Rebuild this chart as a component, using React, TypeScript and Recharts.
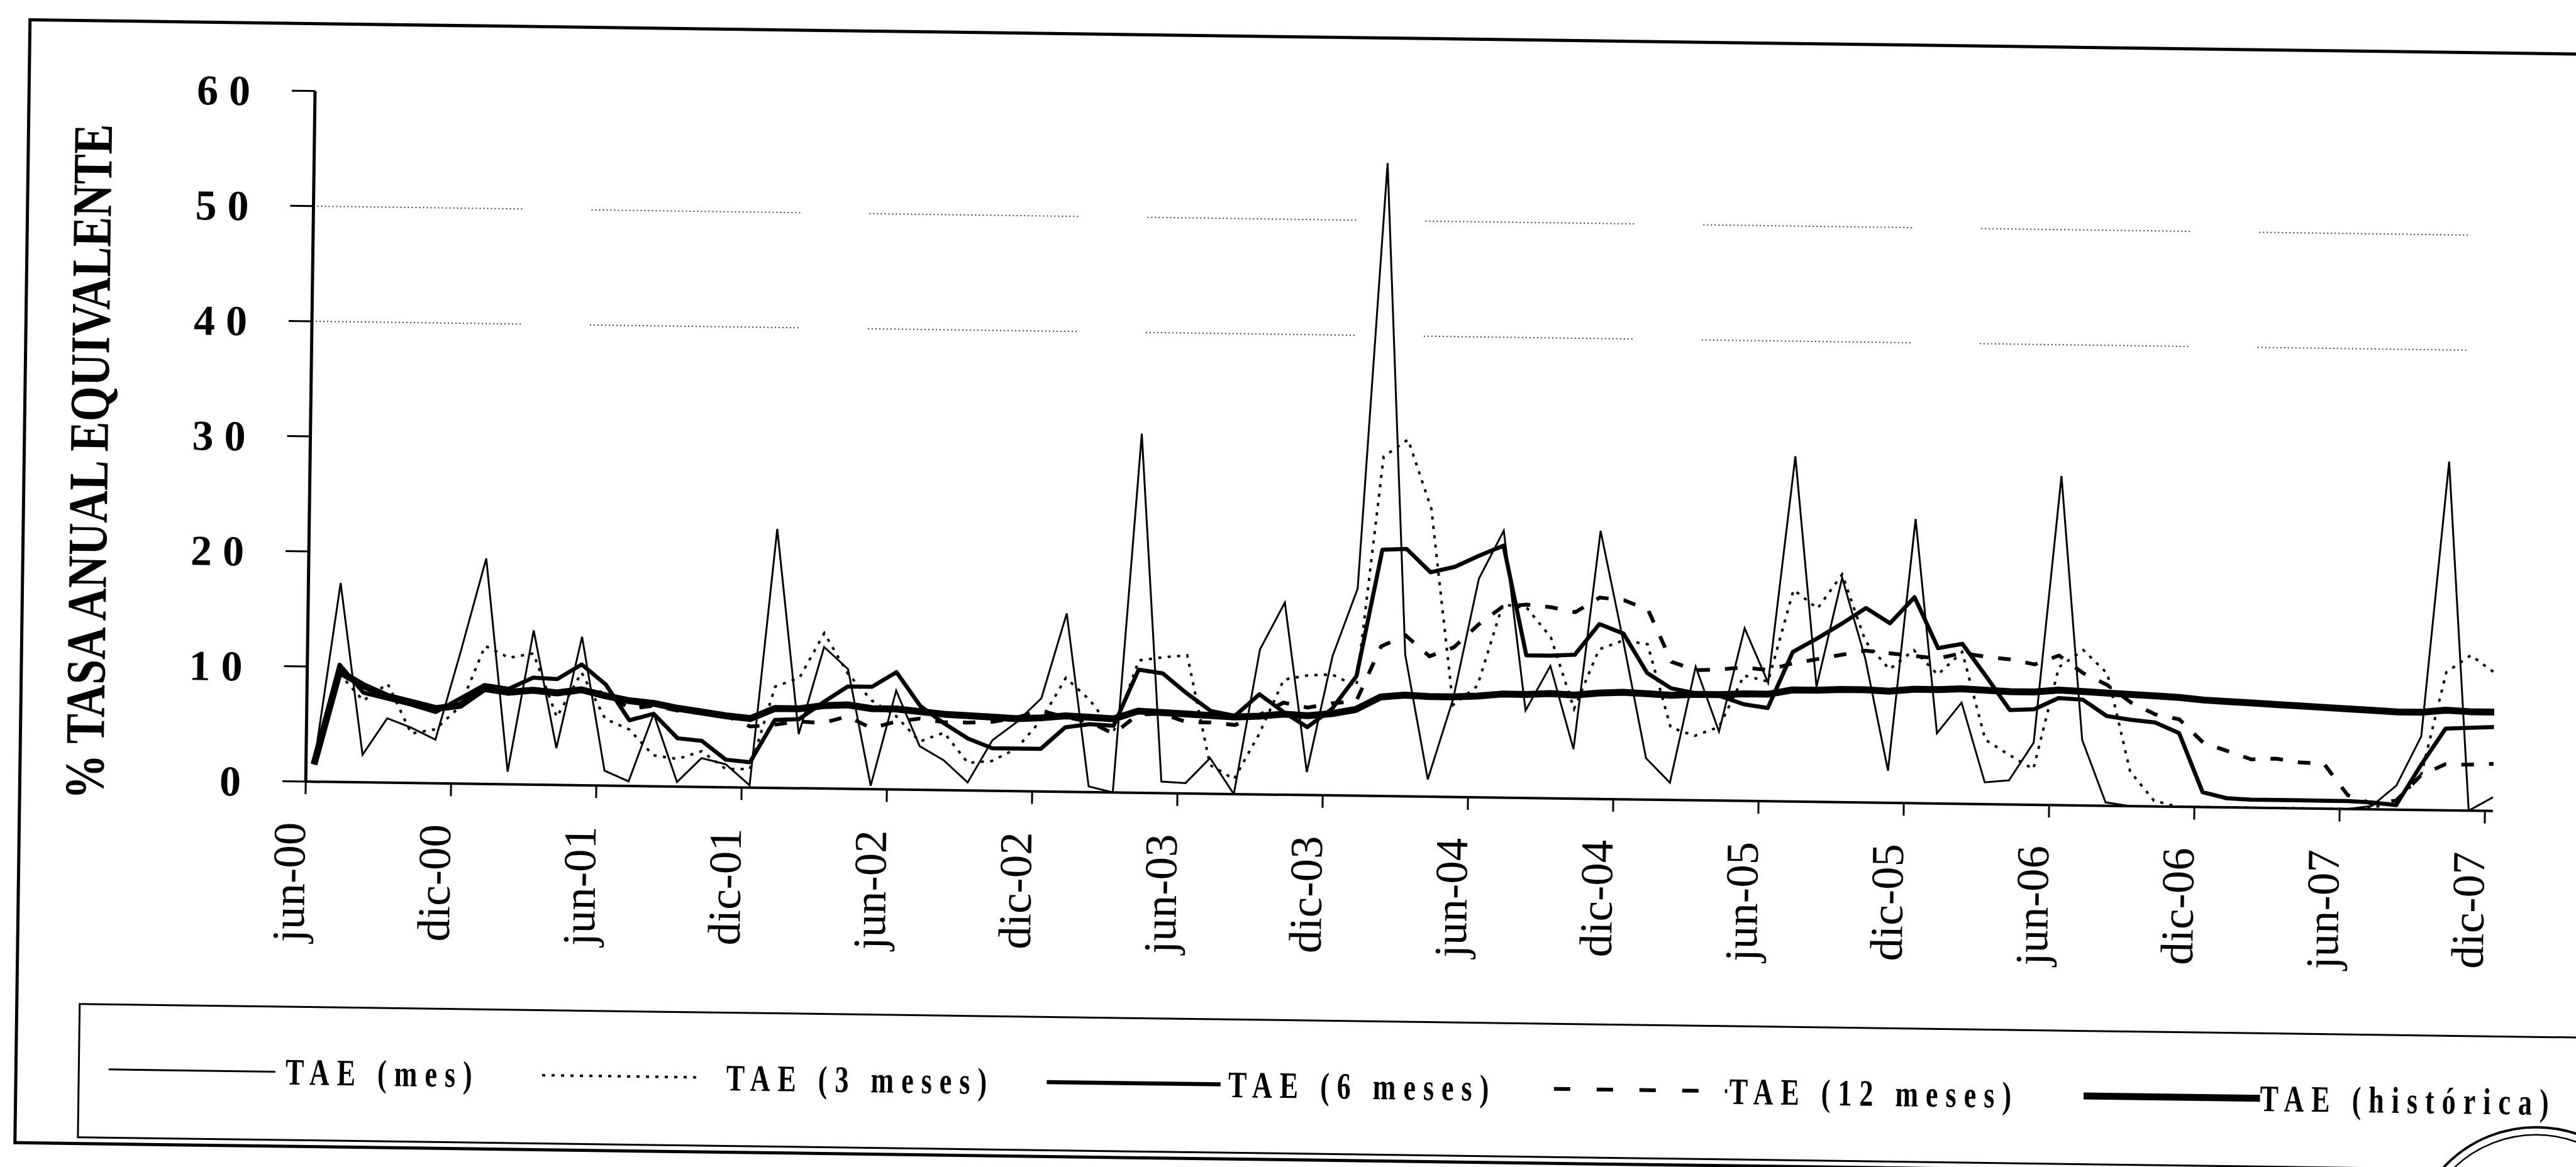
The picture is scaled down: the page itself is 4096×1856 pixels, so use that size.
import React from "react";
import { LineChart, Line, XAxis, YAxis, ReferenceLine } from "recharts";

// everything is laid out in the reference's pixel units and shrunk by S
const S = 0.813;
const W = 4096;
const H = 1856;
const SERIF = "'Liberation Serif', 'Times New Roman', serif";

// the scanned page sits slightly askew
const TILT_DEG = 0.77;

const X0 = 598 * S; // y axis
const X1 = 4876 * S; // end of x axis
const Y0 = 1529 * S; // value 0
const Y60 = 178 * S; // value 60

const TICK_MONTHS = [0, 6, 12, 18, 24, 30, 36, 42, 48, 54, 60, 66, 72, 78, 84, 90];
const TICK_LABELS = [
  "jun-00", "dic-00", "jun-01", "dic-01", "jun-02", "dic-02", "jun-03", "dic-03",
  "jun-04", "dic-04", "jun-05", "dic-05", "jun-06", "dic-06", "jun-07", "dic-07",
];
const Y_TICKS = [0, 10, 20, 30, 40, 50, 60];
const GRID_VALUES = [40, 50];

// monthly observations jun-00 .. dic-07, taken roughly a third into each month
const OBS_OFFSET = 0.33;

const taeMes = [
  1.5, 17.3, 2.4, 5.6, 4.8, 3.8, 11.5, 19.6, 1.1, 13.4,
  3.2, 12.9, 1.3, 0.4, 6.3, 0.4, 2.5, 2.0, 0.2, 22.5,
  4.7, 12.3, 10.4, 0.3, 8.6, 3.8, 2.6, 0.7, 4.4, 6.0,
  8.1, 15.5, 0.5, 0.0, 31.2, 1.0, 0.9, 3.1, 0.0, 12.6,
  16.7, 2.0, 12.1, 18.0, 55.0, 12.3, 1.5, 8.5, 19.0, 23.2,
  7.6, 11.5, 4.3, 23.3, 13.7, 3.6, 1.5, 11.6, 6.0, 15.0,
  10.3, 30.0, 10.0, 19.5, 12.5, 2.8, 24.7, 6.1, 8.8, 1.9,
  2.1, 5.4, 28.6, 5.7, 0.3, 0, 0, 0, 0, 0,
  0, 0, 0, 0, 0, 0.3, 2.1, 6.4, 30.3, 0.0, 1.2,
];

const tae3m = [
  1.5, 9.4, 7.1, 8.6, 4.3, 4.7, 6.7, 12.0, 11.0, 11.4,
  5.9, 9.8, 5.8, 4.9, 2.7, 2.4, 3.1, 1.6, 1.6, 8.8,
  9.6, 13.5, 10.0, 7.7, 6.4, 4.2, 5.0, 2.4, 2.6, 3.7,
  6.2, 9.9, 8.0, 5.3, 11.5, 11.8, 12.0, 2.5, 1.3, 5.2,
  10.0, 10.4, 10.5, 9.5, 29.5, 31.0, 25.0, 8.0, 9.7, 16.8,
  16.5, 14.0, 7.8, 13.0, 13.8, 13.5, 6.3, 5.6, 6.4, 10.9,
  10.4, 18.4, 16.8, 19.8, 14.0, 11.6, 13.3, 11.2, 13.2, 5.6,
  4.3, 3.1, 12.0, 13.5, 11.5, 3.0, 0.5, 0, 0, 0,
  0, 0, 0, 0, 0, 0.1, 0.8, 2.9, 12.0, 13.5, 12.0,
];

const tae6m = [
  1.5, 10.2, 7.8, 7.3, 6.8, 6.2, 7.4, 8.6, 8.3, 9.3,
  9.2, 10.5, 8.8, 5.7, 6.3, 4.2, 4.0, 2.4, 2.2, 5.9,
  6.0, 7.5, 8.9, 8.9, 10.2, 7.3, 5.8, 4.5, 3.7, 3.7,
  3.7, 5.6, 5.9, 5.8, 10.7, 10.4, 8.7, 7.2, 6.8, 8.7,
  7.2, 5.9, 7.5, 10.4, 21.4, 21.5, 19.5, 20.0, 21.0, 21.9,
  12.4, 12.4, 12.5, 15.2, 14.4, 11.0, 9.7, 9.3, 9.1, 8.4,
  8.1, 13.0, 14.2, 15.5, 16.9, 15.6, 17.9, 13.5, 13.9, 11.1,
  8.2, 8.3, 9.3, 9.2, 7.8, 7.5, 7.3, 6.4, 1.3, 0.8,
  0.7, 0.7, 0.7, 0.7, 0.7, 0.6, 0.4, 3.9, 7.1, 7.2, 7.3,
];

const tae12m = [
  1.5, 9.6, 8.4, 7.5, 7.0, 6.5, 6.8, 8.3, 8.0, 8.2,
  8.0, 8.1, 8.1, 6.7, 7.0, 6.6, 6.4, 6.2, 5.3, 5.5,
  5.8, 5.7, 6.3, 5.3, 5.9, 6.2, 5.9, 5.9, 6.0, 6.4,
  7.0, 6.5, 6.1, 5.1, 6.8, 6.9, 6.2, 6.2, 6.0, 6.9,
  8.0, 7.6, 8.0, 8.2, 13.0, 14.0, 12.2, 13.0, 15.0, 16.6,
  16.8, 16.6, 16.2, 17.5, 17.3, 16.5, 12.0, 11.3, 11.4, 11.6,
  11.4, 12.0, 12.4, 12.8, 13.2, 13.0, 12.8, 12.6, 13.1, 12.8,
  12.6, 12.2, 13.0, 11.5, 10.5, 9.0, 8.0, 7.6, 5.6, 4.9,
  4.2, 4.3, 4.0, 3.9, 1.2, 0.5, 0.8, 3.0, 4.0, 4.0, 4.1,
];

const taeHist = [
  1.5, 9.6, 8.4, 7.5, 7.0, 6.5, 6.8, 8.3, 8.0, 8.2,
  8.0, 8.3, 7.8, 7.4, 7.2, 6.8, 6.5, 6.2, 6.0, 6.9,
  6.9, 7.2, 7.3, 7.0, 7.0, 6.8, 6.6, 6.5, 6.4, 6.3,
  6.4, 6.6, 6.5, 6.4, 7.1, 7.0, 6.9, 6.8, 6.7, 6.8,
  7.0, 6.9, 7.1, 7.5, 8.6, 8.8, 8.7, 8.7, 8.8, 9.0,
  9.0, 9.1, 9.0, 9.2, 9.3, 9.2, 9.1, 9.2, 9.2, 9.3,
  9.3, 9.7, 9.7, 9.8, 9.8, 9.7, 9.9, 9.9, 10.0, 9.9,
  9.8, 9.8, 10.0, 9.9, 9.8, 9.7, 9.6, 9.5, 9.3, 9.2,
  9.1, 9.0, 8.9, 8.8, 8.7, 8.6, 8.5, 8.5, 8.7, 8.6, 8.6,
];

const data = taeMes.map((v, i) => ({
  t: i + OBS_OFFSET,
  mes: v,
  m3: tae3m[i],
  m6: tae6m[i],
  m12: tae12m[i],
  hist: taeHist[i],
}));

// faint dotted gridline that the photocopy broke into pieces
const GRID_DASH = Array(55).fill("2 4").join(" ") + " 2 110";

const XTick = ({ x, y, payload }: any) => {
  const idx = TICK_MONTHS.indexOf(payload.value);
  return (
    <text
      transform={`translate(${x},${y}) rotate(-90)`}
      textAnchor="end"
      fontFamily={SERIF}
      fontSize={73}
      fill="#000"
    >
      {TICK_LABELS[idx]}
    </text>
  );
};

const YTick = ({ x, y, payload }: any) => (
  <text
    x={x}
    y={y}
    dy="0.35em"
    textAnchor="end"
    fontFamily={SERIF}
    fontWeight="bold"
    fontSize={68}
    fill="#000"
    style={{ letterSpacing: 17 }}
  >
    {payload.value}
  </text>
);

const legendItems = [
  { label: "TAE (mes)", x1: 220, x2: 546, tx: 566, width: 3, dash: undefined },
  { label: "TAE (3 meses)", x1: 1068, x2: 1374, tx: 1428, width: 4, dash: "5 10" },
  { label: "TAE (6 meses)", x1: 2055, x2: 2395, tx: 2410, width: 6.5, dash: undefined },
  { label: "TAE (12 meses)", x1: 3047, x2: 3386, tx: 3390, width: 6, dash: "26 42" },
  { label: "TAE (histórica)", x1: 4083, x2: 4428, tx: 4428, width: 11, dash: undefined },
];

const LEG_Y = 1705;

export default function App() {
  return (
    <div
      style={{
        position: "absolute",
        left: 0,
        top: 0,
        width: W,
        height: H,
        overflow: "hidden",
        background: "#fff",
      }}
    >
      <div
        style={{
          position: "absolute",
          left: 0,
          top: 0,
          width: W,
          height: H,
          transform: `rotate(${TILT_DEG}deg)`,
          transformOrigin: `${X0}px ${Y0}px`,
        }}
      >
        {/* outer frame */}
        <div
          style={{
            position: "absolute",
            left: 36 * S,
            top: 43 * S,
            width: 5200 * S,
            height: (2246 - 43) * S,
            border: "5px solid #000",
            boxSizing: "border-box",
          }}
        />
        {/* legend box */}
        <div
          style={{
            position: "absolute",
            left: 160 * S,
            top: 1968 * S,
            width: 5100 * S,
            height: (2233 - 1968) * S,
            border: "3px solid #000",
            boxSizing: "border-box",
          }}
        />

        <LineChart
          width={W}
          height={H}
          data={data}
          margin={{ top: Y60, right: W - X1, bottom: 0, left: 0 }}
          style={{ position: "absolute", left: 0, top: 0 }}
        >
          <XAxis
            type="number"
            dataKey="t"
            domain={[0, 90.33]}
            ticks={TICK_MONTHS}
            interval={0}
            allowDataOverflow
            height={H - Y0}
            tickSize={20}
            tickMargin={45}
            axisLine={{ stroke: "#000", strokeWidth: 4 }}
            tickLine={{ stroke: "#000", strokeWidth: 3 }}
            tick={<XTick />}
          />
          <YAxis
            type="number"
            domain={[0, 60]}
            ticks={Y_TICKS}
            interval={0}
            allowDataOverflow
            width={X0}
            tickSize={37}
            tickMargin={49}
            axisLine={{ stroke: "#000", strokeWidth: 5 }}
            tickLine={{ stroke: "#000", strokeWidth: 3 }}
            tick={<YTick />}
          />
          {GRID_VALUES.map((g) => (
            <ReferenceLine
              key={g}
              y={g}
              stroke="#000"
              strokeWidth={2}
              strokeDasharray={GRID_DASH}
              strokeOpacity={0.75}
            />
          ))}
          <Line
            dataKey="mes"
            stroke="#000"
            strokeWidth={3}
            dot={false}
            isAnimationActive={false}
            type="linear"
          />
          <Line
            dataKey="m3"
            stroke="#000"
            strokeWidth={4}
            strokeDasharray="5 10"
            dot={false}
            isAnimationActive={false}
            type="linear"
          />
          <Line
            dataKey="m6"
            stroke="#000"
            strokeWidth={6.5}
            strokeLinejoin="round"
            dot={false}
            isAnimationActive={false}
            type="linear"
          />
          <Line
            dataKey="m12"
            stroke="#000"
            strokeWidth={6}
            strokeDasharray="20 24"
            dot={false}
            isAnimationActive={false}
            type="linear"
          />
          <Line
            dataKey="hist"
            stroke="#000"
            strokeWidth={11}
            strokeLinejoin="round"
            dot={false}
            isAnimationActive={false}
            type="linear"
          />
        </LineChart>

        <svg
          width={W}
          height={H}
          style={{ position: "absolute", left: 0, top: 0, pointerEvents: "none" }}
        >
          {/* axis title, set in a condensed bold serif */}
          <text
            transform={`translate(${202 * S},${909 * S}) rotate(-90) scale(0.806,1)`}
            textAnchor="middle"
            fontFamily={SERIF}
            fontWeight="bold"
            fontSize={89}
            fill="#000"
          >
            % TASA ANUAL EQUIVALENTE
          </text>

          {/* legend */}
          {legendItems.map((it) => (
            <g key={it.label}>
              <line
                x1={it.x1 * S}
                x2={it.x2 * S}
                y1={LEG_Y}
                y2={LEG_Y}
                stroke="#000"
                strokeWidth={it.width}
                strokeDasharray={it.dash}
              />
              <text
                transform={`translate(${it.tx * S},${LEG_Y}) scale(1,1.35)`}
                dy="0.34em"
                fontFamily={SERIF}
                fontWeight="bold"
                fontSize={44}
                fill="#000"
                style={{ letterSpacing: 12 }}
              >
                {it.label}
              </text>
            </g>
          ))}
        </svg>
      </div>

      {/* rubber stamp edge peeking in at the bottom right of the scan */}
      <svg
        width={W}
        height={H}
        style={{ position: "absolute", left: 0, top: 0, pointerEvents: "none" }}
      >
        <circle cx={4960 * S} cy={2452 * S} r={247 * S} fill="none" stroke="#000" strokeWidth={4} />
        <circle cx={4960 * S} cy={2452 * S} r={232 * S} fill="none" stroke="#000" strokeWidth={2.5} />
      </svg>
    </div>
  );
}
